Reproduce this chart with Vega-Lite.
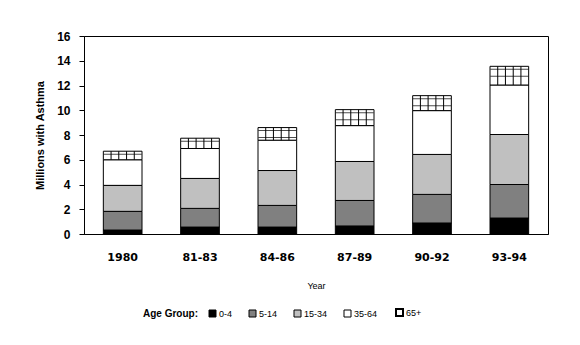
{
  "$schema": "https://vega.github.io/schema/vega-lite/v6.json",
  "autosize": {"type": "none"},
  "width": 464,
  "height": 198,
  "padding": {"left": 84, "top": 36, "right": 32, "bottom": 111},
  "background": "white",
  "config": {
    "view": {"stroke": "black", "strokeWidth": 1},
    "axis": {"domainColor": "black", "tickColor": "black", "grid": false, "labelColor": "black", "titleColor": "black"}
  },
  "datasets": {
    "ages": [
      {"Age": "0-4", "rank": 1},
      {"Age": "5-14", "rank": 2},
      {"Age": "15-34", "rank": 3},
      {"Age": "35-64", "rank": 4},
      {"Age": "65+", "rank": 5}
    ]
  },
  "data": {
    "values": [
      {"Year": "1980", "Age": "0-4", "Millions": 0.32},
      {"Year": "1980", "Age": "5-14", "Millions": 1.51},
      {"Year": "1980", "Age": "15-34", "Millions": 2.10},
      {"Year": "1980", "Age": "35-64", "Millions": 2.07},
      {"Year": "1980", "Age": "65+", "Millions": 0.69},
      {"Year": "81-83", "Age": "0-4", "Millions": 0.56},
      {"Year": "81-83", "Age": "5-14", "Millions": 1.51},
      {"Year": "81-83", "Age": "15-34", "Millions": 2.42},
      {"Year": "81-83", "Age": "35-64", "Millions": 2.42},
      {"Year": "81-83", "Age": "65+", "Millions": 0.83},
      {"Year": "84-86", "Age": "0-4", "Millions": 0.56},
      {"Year": "84-86", "Age": "5-14", "Millions": 1.75},
      {"Year": "84-86", "Age": "15-34", "Millions": 2.82},
      {"Year": "84-86", "Age": "35-64", "Millions": 2.45},
      {"Year": "84-86", "Age": "65+", "Millions": 1.02},
      {"Year": "87-89", "Age": "0-4", "Millions": 0.65},
      {"Year": "87-89", "Age": "5-14", "Millions": 2.06},
      {"Year": "87-89", "Age": "15-34", "Millions": 3.15},
      {"Year": "87-89", "Age": "35-64", "Millions": 2.90},
      {"Year": "87-89", "Age": "65+", "Millions": 1.29},
      {"Year": "90-92", "Age": "0-4", "Millions": 0.89},
      {"Year": "90-92", "Age": "5-14", "Millions": 2.31},
      {"Year": "90-92", "Age": "15-34", "Millions": 3.23},
      {"Year": "90-92", "Age": "35-64", "Millions": 3.54},
      {"Year": "90-92", "Age": "65+", "Millions": 1.21},
      {"Year": "93-94", "Age": "0-4", "Millions": 1.29},
      {"Year": "93-94", "Age": "5-14", "Millions": 2.71},
      {"Year": "93-94", "Age": "15-34", "Millions": 4.04},
      {"Year": "93-94", "Age": "35-64", "Millions": 4.00},
      {"Year": "93-94", "Age": "65+", "Millions": 1.51}
    ]
  },
  "transform": [
    {"lookup": "Age", "from": {"data": {"name": "ages"}, "key": "Age", "fields": ["rank"]}},
    {"stack": "Millions", "groupby": ["Year"], "sort": [{"field": "rank", "order": "ascending"}], "as": ["y0", "y1"]}
  ],
  "encoding": {
    "x": {
      "field": "Year", "type": "ordinal", "sort": null,
      "scale": {"paddingInner": 0.5, "paddingOuter": 0.25},
      "axis": {
        "title": "Year", "labelAngle": 0, "ticks": false, "tickSize": 0,
        "labelFont": "DejaVu Sans", "labelFontWeight": "bold", "labelFontSize": 11, "labelPadding": 17,
        "titleFont": "Liberation Sans", "titleFontWeight": "normal", "titleFontSize": 9, "titlePadding": 19
      }
    },
    "y": {
      "field": "y1", "type": "quantitative",
      "scale": {"domain": [0, 16], "nice": false},
      "axis": {
        "title": "Millions with Asthma", "values": [0, 2, 4, 6, 8, 10, 12, 14, 16], "tickCount": 12, "labelOverlap": false,
        "tickSize": 5, "labelPadding": 9,
        "labelFont": "Liberation Sans", "labelFontWeight": "bold", "labelFontSize": 12,
        "titleFont": "Liberation Sans", "titleFontWeight": "bold", "titleFontSize": 11, "titlePadding": 11
      }
    }
  },
  "layer": [
    {
      "mark": {"type": "bar", "stroke": "black", "strokeWidth": 1},
      "encoding": {
        "y2": {"field": "y0"},
        "fill": {
          "field": "Age", "type": "nominal",
          "scale": {
            "domain": ["0-4", "5-14", "15-34", "35-64", "65+"],
            "range": ["#000000", "#808080", "#c0c0c0", "#ffffff", "#ffffff"]
          },
          "legend": {
            "title": "Age Group:", "orient": "none", "direction": "horizontal", "titleOrient": "left",
            "legendX": 59, "legendY": 272,
            "titleFont": "Liberation Sans", "titleFontWeight": "bold", "titleFontSize": 10, "titlePadding": 10,
            "labelFont": "Liberation Sans", "labelFontSize": 9, "labelOffset": 2,
            "symbolType": "square", "symbolSize": 49, "symbolStrokeColor": "black", "symbolStrokeWidth": 1,
            "columnPadding": 14,
            "encode": {"symbols": {"update": {"strokeWidth": {"signal": "datum.value === '65+' ? 2 : 1"}, "stroke": {"value": "black"}}}}
          }
        }
      }
    },
    {
      "transform": [{"filter": "datum.Age === '65+'"}],
      "mark": {"type": "rule", "color": "black", "strokeWidth": 1, "xOffset": -11.6},
      "encoding": {"y2": {"field": "y0"}}
    },
    {
      "transform": [{"filter": "datum.Age === '65+'"}],
      "mark": {"type": "rule", "color": "black", "strokeWidth": 1, "xOffset": -3.9},
      "encoding": {"y2": {"field": "y0"}}
    },
    {
      "transform": [{"filter": "datum.Age === '65+'"}],
      "mark": {"type": "rule", "color": "black", "strokeWidth": 1, "xOffset": 3.9},
      "encoding": {"y2": {"field": "y0"}}
    },
    {
      "transform": [{"filter": "datum.Age === '65+'"}],
      "mark": {"type": "rule", "color": "black", "strokeWidth": 1, "xOffset": 11.6},
      "encoding": {"y2": {"field": "y0"}}
    },
    {
      "transform": [{"filter": "datum.Age === '65+'"}],
      "mark": {"type": "tick", "orient": "horizontal", "color": "black", "thickness": 1, "size": 38, "yOffset": 3},
      "encoding": {}
    },
    {
      "transform": [{"filter": "datum.Age === '65+' && datum.Millions > 1.0"}],
      "mark": {"type": "tick", "orient": "horizontal", "color": "black", "thickness": 1, "size": 38, "yOffset": 10},
      "encoding": {}
    }
  ]
}
